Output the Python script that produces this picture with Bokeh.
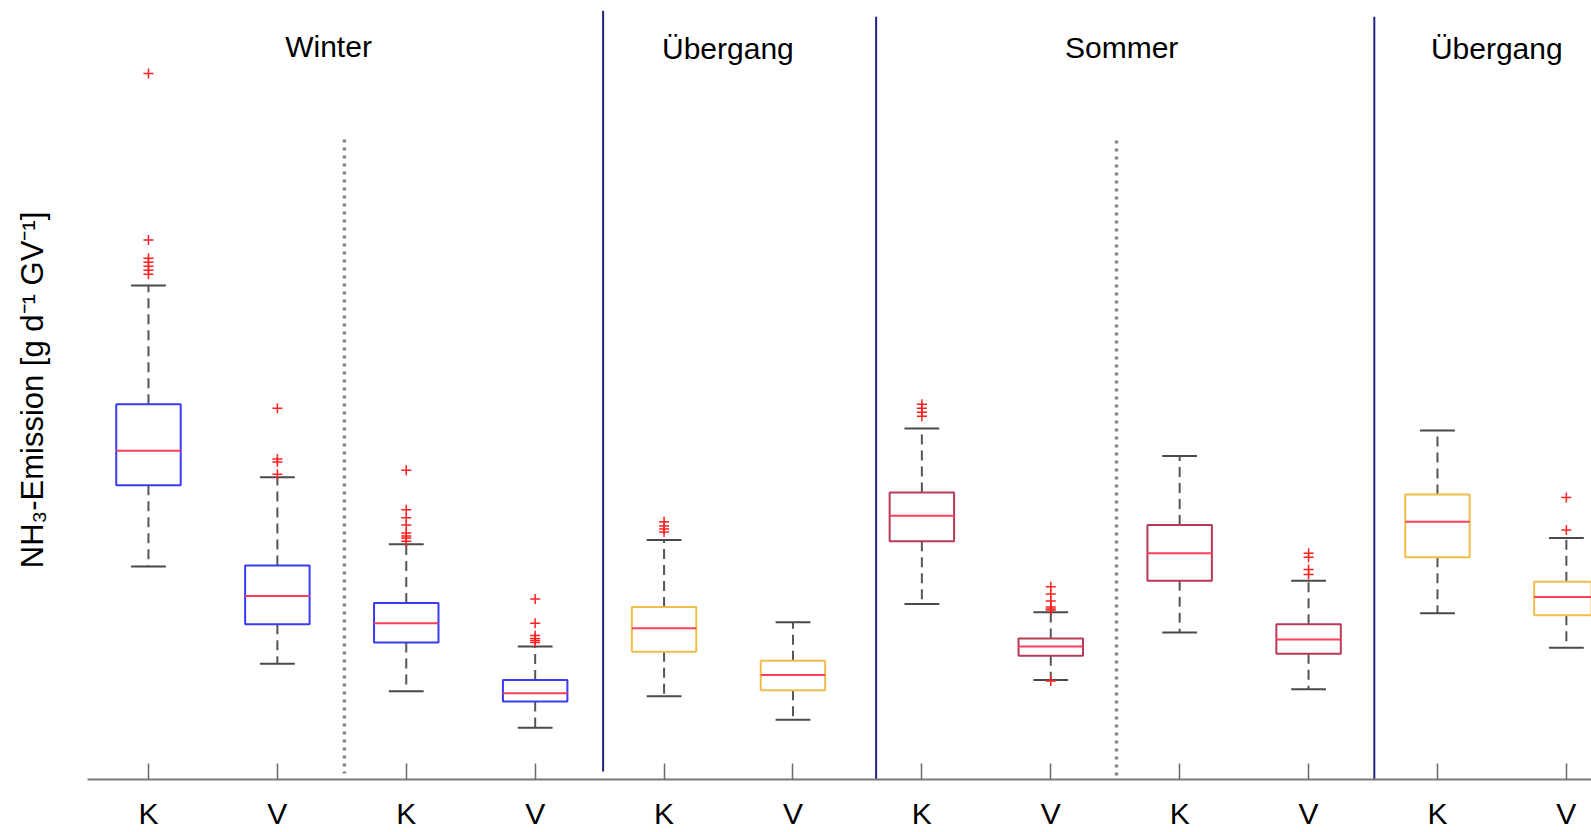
from bokeh.plotting import figure
from bokeh.models import Range1d, FixedTicker, ColumnDataSource
from bokeh.core.properties import value
from bokeh.embed import file_html
from bokeh.resources import INLINE

# ---- data (arbitrary units, no y ticks in the original) ----
positions = [1, 2, 3, 4, 5, 6, 7, 8, 9, 10, 11, 12]
tick_labels = ["K", "V", "K", "V", "K", "V", "K", "V", "K", "V", "K", "V"]
seasons = ["Winter", "Winter", "Winter", "Winter", "Übergang", "Übergang",
           "Sommer", "Sommer", "Sommer", "Sommer", "Übergang", "Übergang"]
whisker_hi = [48.7, 29.8, 23.2, 13.1, 23.6, 15.5, 34.6, 16.5, 31.9, 19.6, 34.4, 23.8]
q3 = [37.0, 21.1, 17.4, 9.8, 17.0, 11.7, 28.3, 13.9, 25.1, 15.3, 28.1, 19.5]
median = [32.4, 18.1, 15.4, 8.5, 14.9, 10.3, 26.0, 13.1, 22.3, 13.8, 25.4, 18.0]
q1 = [29.0, 15.3, 13.5, 7.7, 12.6, 8.8, 23.5, 12.2, 19.6, 12.4, 21.9, 16.2]
whisker_lo = [21.0, 11.4, 8.7, 5.1, 8.2, 5.9, 17.3, 9.8, 14.5, 8.9, 16.4, 13.0]
outliers = [
    [69.6, 53.2, 51.4, 51.0, 50.6, 50.2, 49.8],
    [36.6, 31.6, 31.3, 30.1],
    [30.5, 26.6, 25.8, 25.1, 24.3, 24.0, 23.8, 23.5],
    [17.8, 15.4, 14.2, 13.9, 13.7, 13.5],
    [25.4, 25.0, 24.7, 24.4],
    [],
    [37.0, 36.6, 36.2, 35.8],
    [19.0, 18.3, 17.6, 17.0, 16.8, 16.7, 9.7],
    [],
    [22.3, 21.9, 20.7, 20.2],
    [],
    [27.8, 24.6],
]
section_titles = ["Winter", "Übergang", "Sommer", "Übergang"]
section_centers = [2.397, 5.495, 8.55, 11.46]
solid_separators = [4.527, 6.645, 10.51]
dotted_separators = [2.52, 8.51]

season_colors = {"Winter": "#3a3af5", "Übergang": "#efbf4a", "Sommer": "#b83a58"}
box_colors = [season_colors[s] for s in seasons]

FONT = "Liberation Sans"

p = figure(width=1591, height=832, output_backend="svg", toolbar_location=None,
           x_range=Range1d(0.527, 12.195), y_range=Range1d(0, 76.8),
           min_border_left=87, min_border_right=0, min_border_top=0,
           min_border_bottom=53)
p.outline_line_color = None
p.grid.visible = False
p.background_fill_color = "white"
p.border_fill_color = "white"

# x axis
xa = p.xaxis[0]
xa.ticker = FixedTicker(ticks=positions)
xa.major_label_overrides = {pos: lab for pos, lab in zip(positions, tick_labels)}
xa.major_tick_in = 16
xa.major_tick_out = 0
xa.minor_tick_line_color = None
xa.axis_line_color = "#7a7a7a"
xa.axis_line_width = 2
xa.major_tick_line_color = "#6a6a6a"
xa.major_tick_line_width = 1.5
xa.major_label_text_font = FONT
xa.major_label_text_font_size = "30px"
xa.major_label_text_color = "black"
xa.major_label_standoff = 17

# y axis (label only)
ya = p.yaxis[0]
ya.ticker = FixedTicker(ticks=[])
ya.axis_line_color = None
ya.major_tick_line_color = None
ya.minor_tick_line_color = None
ya.major_label_text_font_size = "0px"
ya.major_label_standoff = 0
ya.axis_label = "NH₃-Emission [g d⁻¹ GV⁻¹]"
ya.axis_label_text_font = FONT
ya.axis_label_text_font_size = "31px"
ya.axis_label_text_font_style = "normal"
ya.axis_label_text_color = "black"
ya.axis_label_standoff = 38

# separators
p.segment(x0=dotted_separators, x1=dotted_separators, y0=[63.1, 63.0], y1=[0.6, 0.3],
          line_color="#858585", line_width=3.5, line_dash="3 5")
p.segment(x0=solid_separators, x1=solid_separators, y0=[75.8, 75.2, 75.2], y1=[0.8, 0, 0],
          line_color="#24247e", line_width=2)

# whiskers
dash = "10 6"
p.segment(x0=positions, x1=positions, y0=q3, y1=whisker_hi, line_color="#555555",
          line_width=2, line_dash=dash)
p.segment(x0=positions, x1=positions, y0=q1, y1=whisker_lo, line_color="#555555",
          line_width=2, line_dash=dash)
capw = 0.135
p.segment(x0=[x - capw for x in positions], x1=[x + capw for x in positions],
          y0=whisker_hi, y1=whisker_hi, line_color="#4a4a4a", line_width=2)
p.segment(x0=[x - capw for x in positions], x1=[x + capw for x in positions],
          y0=whisker_lo, y1=whisker_lo, line_color="#4a4a4a", line_width=2)

# boxes
src = ColumnDataSource(dict(x=positions, top=q3, bottom=q1, color=box_colors))
p.vbar(x="x", top="top", bottom="bottom", width=0.5, source=src,
       fill_color="white", line_color="color", line_width=2)
bw = 0.25
p.segment(x0=[x - bw for x in positions], x1=[x + bw for x in positions],
          y0=median, y1=median, line_color="#ff3f5a", line_width=2)

# outliers
ox, oy = [], []
for x, vals in zip(positions, outliers):
    for v in vals:
        ox.append(x)
        oy.append(v)
p.scatter(x=ox, y=oy, marker="cross", size=10, line_color="#ff2020", line_width=1.5)

# section titles
p.text(x=section_centers, y=[72.3, 72.1, 72.2, 72.1], text=section_titles,
       text_font=value(FONT), text_font_size="30px", text_color="black",
       text_align="center", text_baseline="middle")

open("out.html", "w").write(file_html(p, INLINE))
